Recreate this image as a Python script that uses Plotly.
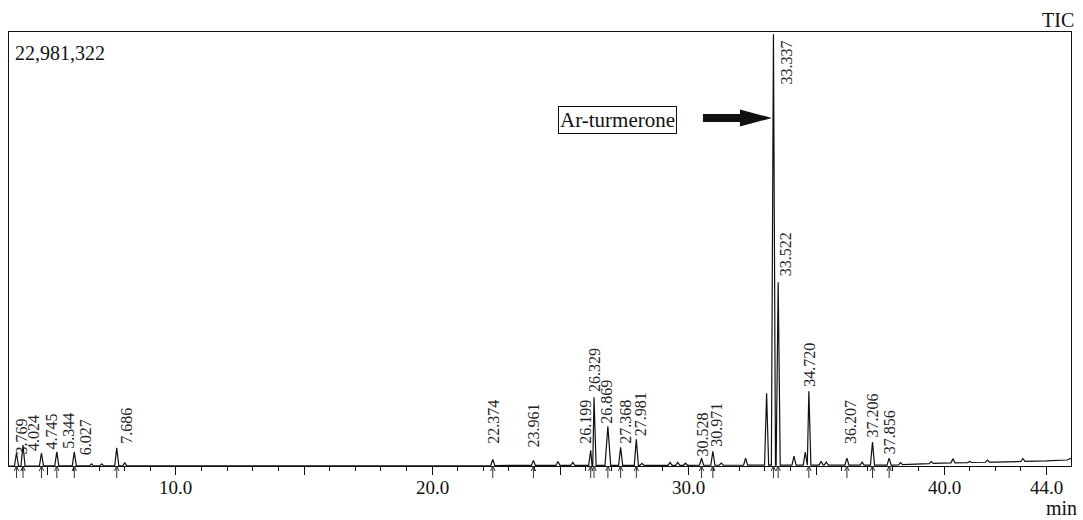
import numpy as np
import plotly.graph_objects as go

# ---------------- data ----------------
MAX_TIC = 22981322

# labelled peaks: retention time (min) and intensity (counts)
label_times = [3.769, 4.024, 4.745, 5.344, 6.027, 7.686, 22.374, 23.961,
               26.199, 26.329, 26.869, 27.368, 27.981, 30.528, 30.971,
               33.337, 33.522, 34.720, 36.207, 37.206, 37.856]
label_heights = [693000, 1120000, 693000, 746000, 746000, 960000, 320000, 267000,
                 800000, 3626000, 2080000, 960000, 1386000, 373000, 746000,
                 22981322, 9758000, 3946000, 373000, 1226000, 373000]

# unlabelled peaks / bumps
other_times = [6.7, 7.1, 8.0, 24.92, 25.5, 28.2, 29.3, 29.6, 29.9, 31.3, 32.25,
               33.07, 34.14, 34.58, 35.2, 35.4, 36.8, 38.3, 39.5, 40.35, 41.0,
               41.7, 43.08]
other_heights = [110000, 110000, 160000, 210000, 160000, 110000, 160000, 160000,
                 110000, 110000, 373000, 3839000, 480000, 693000, 210000, 160000,
                 160000, 110000, 100000, 210000, 60000, 110000, 160000]

# baseline drift at the end of the run
drift_times = [3.4, 38.0, 40.0, 42.0, 44.0, 44.8, 45.0]
drift_values = [0, 50000, 160000, 210000, 270000, 320000, 430000]

x_tick_vals = [5, 10, 15, 20, 25, 30, 35, 40, 44]
x_tick_text = ["", "10.0", "", "20.0", "", "30.0", "", "40.0", "44.0"]

# ---------------- build trace vertices ----------------
HALF_W = 0.08
pts = []
all_t = label_times + other_times
all_h = label_heights + other_heights
for t, h in zip(all_t, all_h):
    w = HALF_W * (1.4 if 1500000 < h < 3000000 else 1.0)
    pts.append((t - w, 0.0))
    pts.append((t, float(h)))
    pts.append((t + w, 0.0))
for t in drift_times:
    pts.append((t, 0.0))
pts.sort(key=lambda p: p[0])
xs = np.array([p[0] for p in pts])
ys = np.array([p[1] for p in pts]) + np.interp(xs, drift_times, drift_values)

# ---------------- geometry helpers ----------------
X0, X1 = 3.477, 44.96
PX_PER_MIN = 25.6
PLOT_TOP, PLOT_BOT = 32, 466
PH = PLOT_BOT - PLOT_TOP
YMAX = MAX_TIC * PH / 431.0

def py(px):
    return (PLOT_BOT - px) / PH

FONT = "Liberation Serif, Times New Roman, serif"

fig = go.Figure()
fig.add_trace(go.Scatter(x=xs, y=ys, mode="lines",
                         line=dict(color="#111111", width=1.2),
                         hoverinfo="skip", showlegend=False))

annotations = []
# peak labels: (x shift px, bottom of text px)  -- layout only
label_layout = {
    3.769: (5, 455), 4.024: (10, 452), 4.745: (10, 450), 5.344: (11, 450),
    6.027: (11, 456), 7.686: (9, 445), 22.374: (0, 445), 23.961: (0, 448),
    26.199: (-6, 445), 26.329: (0, 393), 26.869: (-2, 425), 27.368: (4, 445),
    27.981: (4, 437), 30.528: (0, 458), 30.971: (3, 448), 33.522: (7, 277),
    34.720: (0, 388), 36.207: (3, 445), 37.206: (0, 438), 37.856: (0, 455),
}
for t in label_times:
    txt = f"{t:.3f}"
    if t == 33.337:
        annotations.append(dict(x=t, xref="x", y=py(38), yref="paper", text=txt,
                                textangle=-90, showarrow=False, xanchor="center",
                                yanchor="top", xshift=13,
                                font=dict(family=FONT, size=16, color="#222")))
        continue
    dx, bot = label_layout[t]
    annotations.append(dict(x=t, xref="x", y=py(bot), yref="paper", text=txt,
                            textangle=-90, showarrow=False, xanchor="center",
                            yanchor="bottom", xshift=dx, borderpad=0,
                            font=dict(family=FONT, size=16, color="#222")))

# x tick labels placed as annotations
for v, s in zip(x_tick_vals, x_tick_text):
    if s:
        annotations.append(dict(x=v, xref="x", y=py(487), yref="paper", text=s,
                                showarrow=False, xanchor="center", yanchor="middle",
                                font=dict(family=FONT, size=19, color="#111")))

annotations += [
    dict(x=(13 - 9) / 1062, xref="paper", y=py(53), yref="paper", text="22,981,322",
         showarrow=False, xanchor="left", yanchor="middle",
         font=dict(family=FONT, size=20, color="#111")),
    dict(x=(1076 - 9) / 1062, xref="paper", y=py(20), yref="paper", text="TIC",
         showarrow=False, xanchor="right", yanchor="middle",
         font=dict(family=FONT, size=20, color="#111")),
    dict(x=(1044 - 9) / 1062, xref="paper", y=py(508), yref="paper", text="min",
         showarrow=False, xanchor="left", yanchor="middle",
         font=dict(family=FONT, size=20, color="#111")),
    dict(x=33.337 - (773.4 - 617.5) / PX_PER_MIN, xref="x", y=py(120), yref="paper",
         text="Ar-turmerone", showarrow=False, xanchor="center", yanchor="middle",
         bordercolor="#111", borderwidth=1, borderpad=1, bgcolor="white",
         font=dict(family=FONT, size=21, color="#111")),
]

shapes = []
# peak marker arrows below the axis
for t in label_times:
    shapes.append(dict(type="line", xref="x", yref="paper", x0=t, x1=t,
                       y0=0, y1=-12 / PH, line=dict(color="#333", width=1)))
    d = 2.2 / PX_PER_MIN
    shapes.append(dict(type="path", xref="x", yref="paper",
                       path=f"M {t - d},{-5 / PH} L {t},0 L {t + d},{-5 / PH}",
                       line=dict(color="#333", width=1)))

# big arrow pointing to the main peak
tip = 33.337 - 1.5 / PX_PER_MIN
head_base = tip - 32 / PX_PER_MIN
tail = tip - 69 / PX_PER_MIN
yc = py(118)
sh = 4 / PH
hh = 8.5 / PH
path = (f"M {tail},{yc - sh} L {head_base},{yc - sh} L {head_base},{yc - hh} "
        f"L {tip},{yc} L {head_base},{yc + hh} L {head_base},{yc + sh} "
        f"L {tail},{yc + sh} Z")
shapes.append(dict(type="path", path=path, xref="x", yref="paper",
                   fillcolor="#111", line=dict(color="#111", width=0)))

fig.update_layout(
    width=1083, height=520,
    margin=dict(l=9, r=12, t=PLOT_TOP, b=520 - PLOT_BOT),
    paper_bgcolor="white", plot_bgcolor="white",
    showlegend=False,
    annotations=annotations,
    shapes=shapes,
    xaxis=dict(range=[X0, X1], showgrid=False, zeroline=False,
               showline=True, linecolor="#111", linewidth=1, mirror=True,
               tickmode="array", tickvals=x_tick_vals,
               showticklabels=False,
               ticks="outside", ticklen=8, tickwidth=1, tickcolor="#111",
               minor=dict(tickvals=list(range(4, 45)), ticks="outside",
                          ticklen=4, tickwidth=1, tickcolor="#111")),
    yaxis=dict(range=[0, YMAX], showgrid=False, zeroline=False,
               showline=True, linecolor="#111", linewidth=1, mirror=True,
               showticklabels=False, ticks=""),
)

fig.write_html("out.html", config={"displayModeBar": False},
               post_script="document.body.style.margin='0';document.body.style.padding='0';")
